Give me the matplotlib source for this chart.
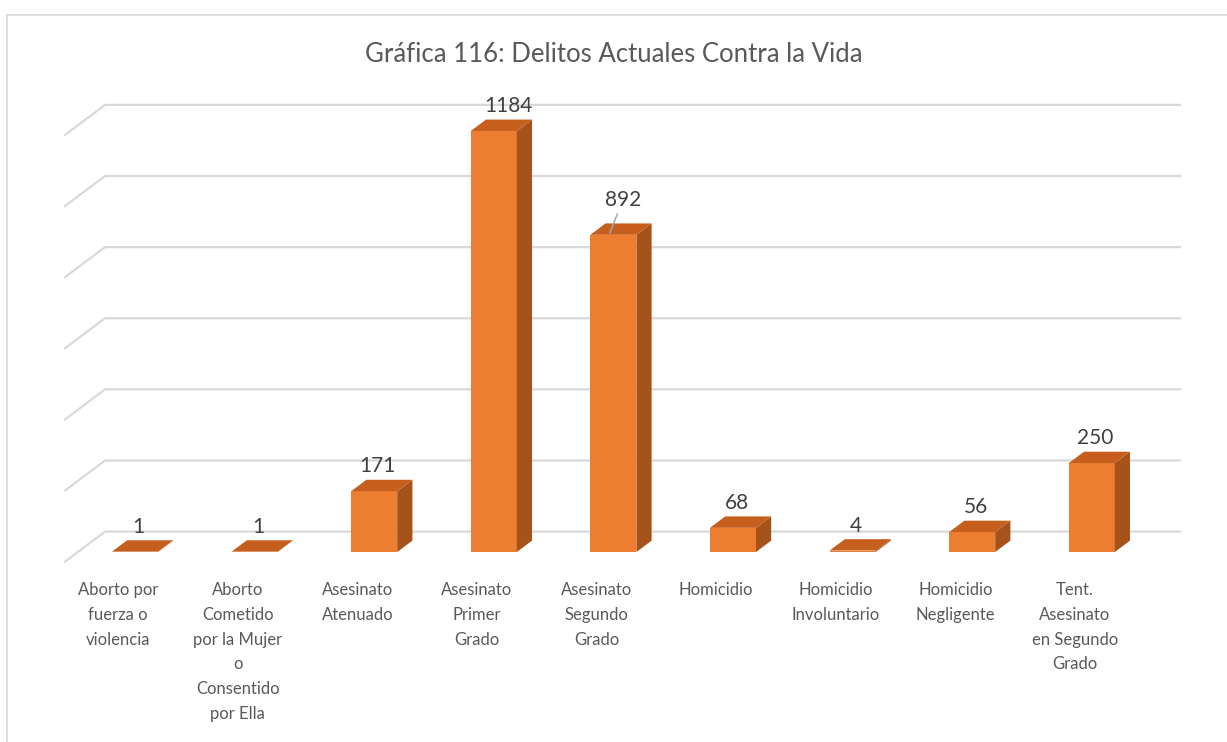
import numpy as np
import matplotlib.pyplot as plt
from matplotlib.patches import Polygon, Rectangle
from matplotlib.lines import Line2D

plt.rcParams['font.family'] = ['Lato', 'DejaVu Sans']

# data
categories = ['Aborto por\nfuerza o\nviolencia',
              'Aborto\nCometido\npor la Mujer\no\nConsentido\npor Ella',
              'Asesinato\nAtenuado',
              'Asesinato\nPrimer\nGrado',
              'Asesinato\nSegundo\nGrado',
              'Homicidio',
              'Homicidio\nInvoluntario',
              'Homicidio\nNegligente',
              'Tent.\nAsesinato\nen Segundo\nGrado']
values = [1, 1, 171, 1184, 892, 68, 4, 56, 250]
grid_values = [0, 200, 400, 600, 800, 1000, 1200]
title = 'Gráfica 116: Delitos Actuales Contra la Vida'

front_col = '#ED7D31'
top_col = '#C65F1E'
side_col = '#A5521B'
grid_col = '#D9D9D9'
text_col = '#595959'

fig = plt.figure(figsize=(12.27, 7.42), dpi=100)
ax = fig.add_axes([0.01255, 0.1602, 0.9747, 0.7668])
ax.set_xlim(-1, 9)
ax.set_ylim(-200, 1400)
ax.axis('off')

# fake 3d: depth 0 = front of floor, 1 = back wall
kx = 40 / 119.6     # category units per unit depth
ky = 30 / 0.3556    # value units per unit depth
df = 0.32           # depth of the bar front faces
bd = 0.38           # bar depth
w = 0.385           # bar width

def P(x, v, d):
    return (x + (d - df) * kx, v + (d - df) * ky)

# walls / gridlines
xl, xr = -0.478, 8.51
for g in grid_values:
    pts = [P(xl, g, 0), P(xl, g, 1), P(xr, g, 1)]
    ax.add_line(Line2D([p[0] for p in pts], [p[1] for p in pts],
                       color=grid_col, lw=1.6, zorder=1))

# bars
ox, oy = bd * kx, bd * ky
for i, v in enumerate(values):
    x0, x1 = i - w / 2, i + w / 2
    ax.add_patch(Rectangle((x0, 0), w, v, facecolor=front_col,
                           edgecolor='none', zorder=3))
    ax.add_patch(Polygon([(x1, 0), (x1, v), (x1 + ox, v + oy), (x1 + ox, oy)],
                         facecolor=side_col, edgecolor='none', zorder=3))
    ax.add_patch(Polygon([(x0, v), (x1, v), (x1 + ox, v + oy), (x0 + ox, v + oy)],
                         facecolor=top_col, edgecolor='none', zorder=3))
    if v == 892:
        ax.annotate(str(v), xy=(i - 0.03, v + oy * 0.15), xytext=(i + 0.08, v + oy + 66),
                    ha='center', va='center', fontsize=15, color='#404040',
                    arrowprops=dict(arrowstyle='-', color='#9DA7B3', lw=1.1,
                                    shrinkA=1, shrinkB=0), zorder=5)
    else:
        lx = i + 0.12 if v > 1000 else i + 0.03
        ax.text(lx, v + oy + 38, str(v), ha='center', va='center',
                fontsize=15, color='#404040', zorder=4)

    # category labels under the floor
    ax.text(i - 0.14, -84, categories[i], ha='center', va='top',
            fontsize=12, color=text_col, linespacing=1.68)

fig.text(0.5, 0.926, title, ha='center', va='center', fontsize=18.5, color=text_col)

# chart border (top and left)
fig.add_artist(Line2D([0.006, 1.0], [0.98, 0.98], color=grid_col, lw=1.2))
fig.add_artist(Line2D([0.006, 0.006], [0.0, 0.98], color=grid_col, lw=1.2))

fig.savefig('out.png', dpi=100)
